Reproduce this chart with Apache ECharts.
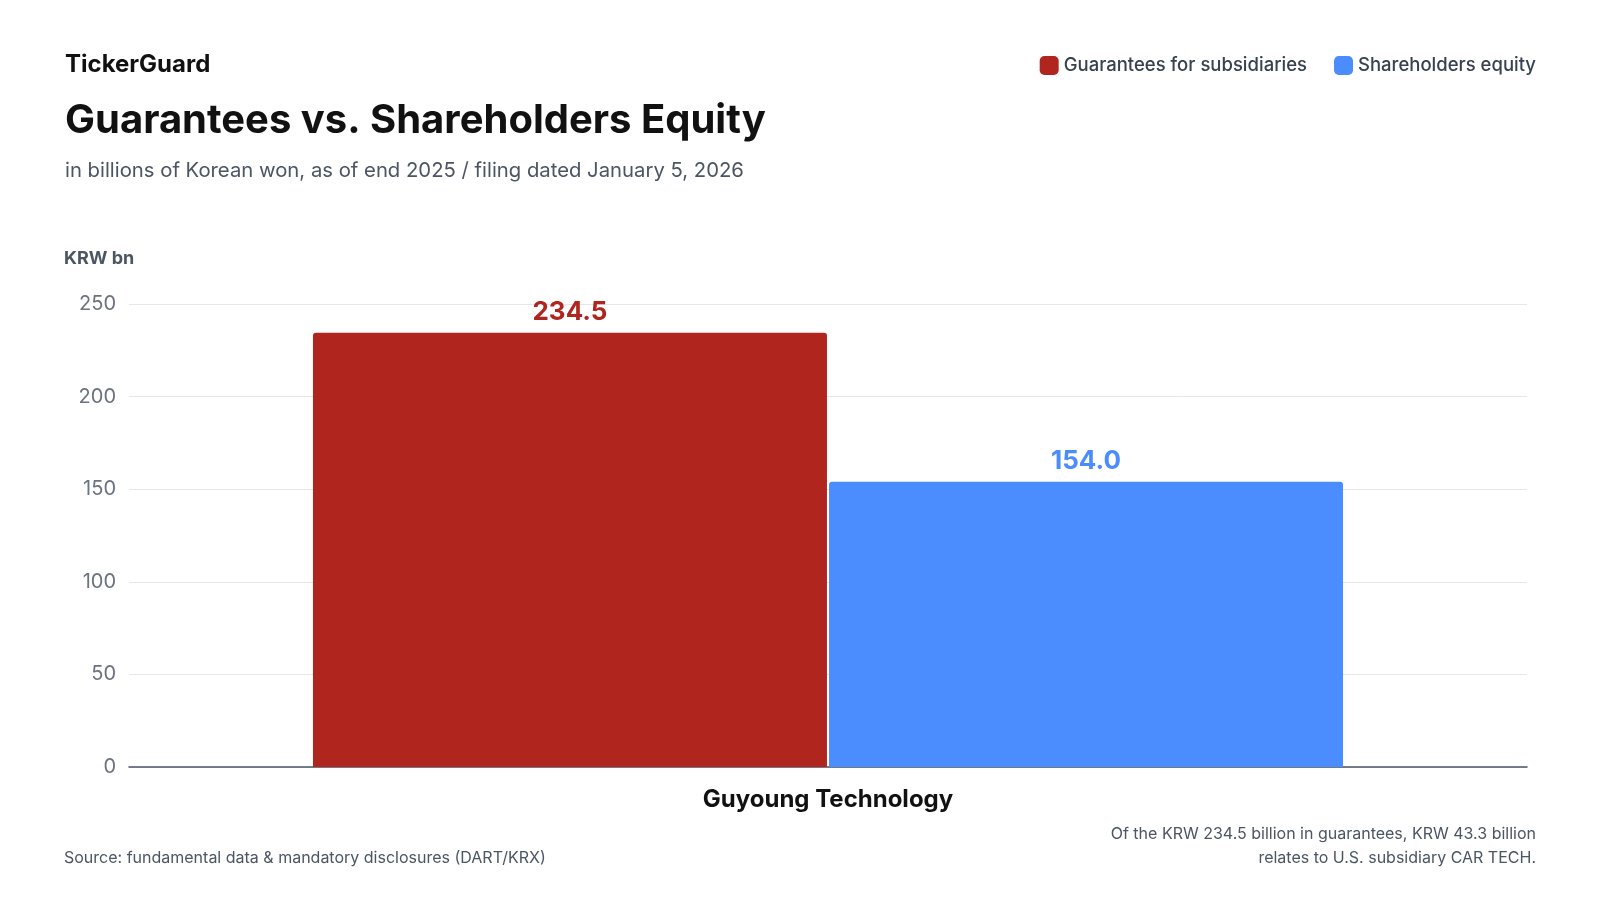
<!DOCTYPE html>
<html><head><meta charset="utf-8">
<script src="https://cdn.jsdelivr.net/npm/echarts@6/dist/echarts.min.js"></script>
<style>html,body{margin:0;background:#fff}#container{width:1600px;height:900px}</style>
</head><body><div id="container"></div>
<script>
var categories = ['Guyoung Technology'];
var guarantees = [234.5];
var equity = [154.0];
var yTicks = [0, 50, 100, 150, 200, 250];

var font = 'Inter';
var noteStyle = { fontFamily: font, fontSize: 16, fill: '#4b5563' };
var myChart = echarts.init(document.querySelector('#container'));
var option = {
    backgroundColor: '#fff',
    textStyle: { fontFamily: font },
    title: [
        { text: 'TickerGuard', left: 60, top: 48, textStyle: { fontFamily: font, fontSize: 24, fontWeight: 'bold', color: '#111', letterSpacing: -0.5 } },
        { text: 'Guarantees vs. Shareholders Equity', left: 60, top: 96, textStyle: { fontFamily: font, fontSize: 40, fontWeight: 'bold', color: '#111', letterSpacing: -1.5 } },
        { text: 'in billions of Korean won, as of end 2025 / filing dated January 5, 2026', left: 60, top: 156, textStyle: { fontFamily: font, fontSize: 20.3, fontWeight: 'normal', color: '#4b5563' } }
    ],
    graphic: [
        { type: 'text', left: 64, top: 850, style: Object.assign({ text: 'Source: fundamental data & mandatory disclosures (DART/KRX)' }, noteStyle) },
        { type: 'text', right: 64, top: 826, style: Object.assign({ text: 'Of the KRW 234.5 billion in guarantees, KRW 43.3 billion' }, noteStyle) },
        { type: 'text', right: 64, top: 850, style: Object.assign({ text: 'relates to U.S. subsidiary CAR TECH.' }, noteStyle) }
    ],
    legend: {
        right: 59, top: 51, itemWidth: 19, itemHeight: 19, itemGap: 27,
        icon: 'roundRect',
        textStyle: { fontFamily: font, fontSize: 18.5, color: '#374151', fontWeight: 500 },
        data: ['Guarantees for subsidiaries', 'Shareholders equity']
    },
    grid: { left: 129, right: 73, top: 304, bottom: 133 },
    xAxis: {
        type: 'category', data: categories,
        axisLine: { lineStyle: { color: '#4b5563', width: 1.5 } },
        axisTick: { show: false },
        axisLabel: { fontFamily: font, fontSize: 24, fontWeight: 'bold', color: '#111', margin: 21 }
    },
    yAxis: {
        type: 'value', min: yTicks[0], max: yTicks[yTicks.length - 1], interval: 50,
        name: 'KRW bn', nameLocation: 'end', nameGap: 36,
        nameTextStyle: { fontFamily: font, fontSize: 18, fontWeight: 'bold', color: '#4b5563', align: 'left', padding: [0, 0, 0, -65] },
        axisLine: { show: false }, axisTick: { show: false },
        axisLabel: { fontFamily: font, fontSize: 20, color: '#6b7280', margin: 13 },
        splitLine: { lineStyle: { color: '#e5e7eb' } }
    },
    series: [
        { name: 'Guarantees for subsidiaries', type: 'bar', data: guarantees, barWidth: 514, barGap: '0.4%',
          itemStyle: { color: '#b0251e', borderRadius: [3, 3, 0, 0] },
          label: { show: true, position: 'top', distance: 8, formatter: function (p) { return p.value.toFixed(1); },
                   fontFamily: font, fontSize: 26, fontWeight: 'bold', color: '#b0251e' } },
        { name: 'Shareholders equity', type: 'bar', data: equity, barWidth: 514,
          itemStyle: { color: '#4b8dff', borderRadius: [3, 3, 0, 0] },
          label: { show: true, position: 'top', distance: 8, formatter: function (p) { return p.value.toFixed(1); },
                   fontFamily: font, fontSize: 26, fontWeight: 'bold', color: '#4b8dff' } }
    ]
};
myChart.setOption(option);
</script></body></html>
